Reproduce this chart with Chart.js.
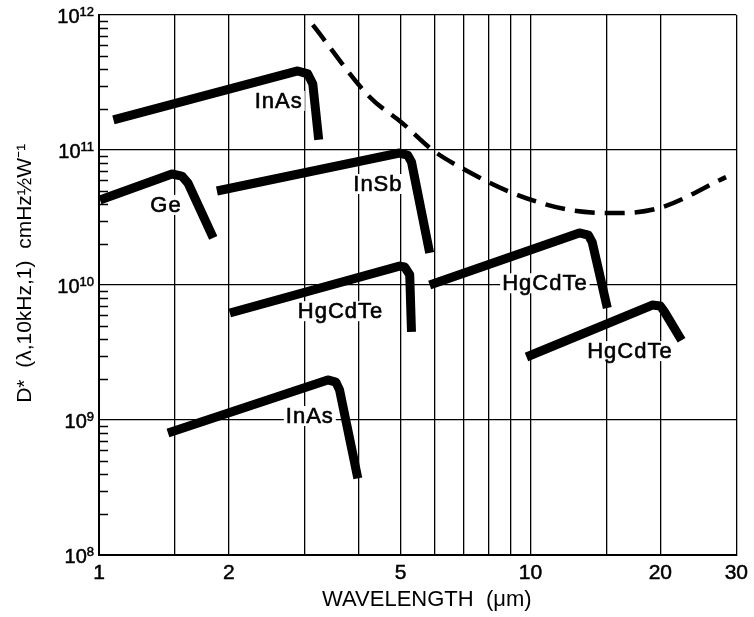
<!DOCTYPE html>
<html>
<head>
<meta charset="utf-8">
<script src="https://cdn.jsdelivr.net/npm/chart.js@4.4.1/dist/chart.umd.min.js"></script>
<style>
  body { margin: 0; background: #fff; }
  canvas { display: block; }
</style>
</head>
<body>
<canvas id="chart" width="754" height="617"></canvas>
<script>
// axis ticks
const xTicks = [1, 1.5, 2, 3, 4, 5, 6, 7, 8, 9, 10, 15, 20, 30];
const xTickLabels = [1, 2, 5, 10, 20, 30];
const yTicks = [1e8, 1e9, 1e10, 1e11, 1e12];
const yTickExps = ['8', '9', '10', '11', '12'];

// detector curves (wavelength um, D*)
const inAsUpperX = [1.08, 2.888, 3.047, 3.13, 3.23];
const inAsUpperY = [1.67e11, 3.85e11, 3.66e11, 3.08e11, 1.19e11];
const geX = [1.005, 1.476, 1.556, 1.607, 1.84];
const geY = [4.27e10, 6.64e10, 6.41e10, 5.7e10, 2.23e10];
const inSbX = [1.876, 4.97, 5.19, 5.3, 5.84];
const inSbY = [4.97e10, 9.5e10, 9.18e10, 8.15e10, 1.73e10];
const hgCdTe1X = [2.01, 4.97, 5.11, 5.25, 5.3];
const hgCdTe1Y = [6.2e9, 1.38e10, 1.36e10, 1.19e10, 4.5e9];
const hgCdTe2X = [5.84, 12.98, 13.62, 13.9, 15.07];
const hgCdTe2Y = [1.0e10, 2.43e10, 2.34e10, 2.08e10, 6.76e9];
const hgCdTe3X = [9.79, 19.16, 20.0, 20.4, 22.4];
const hgCdTe3Y = [2.93e9, 7.1e9, 6.98e9, 6.4e9, 3.9e9];
const inAsLowerX = [1.445, 3.39, 3.54, 3.61, 3.98];
const inAsLowerY = [8.0e8, 1.98e9, 1.91e9, 1.67e9, 3.7e8];
// background limited (dashed)
const blipX = [3.13, 4.24, 5.05, 5.93, 6.85, 9.09, 12.3, 15.8, 19.9, 28.4];
const blipY = [8.44e11, 2.47e11, 1.58e11, 1e11, 7.5e10, 4.8e10, 3.6e10, 3.41e10, 3.72e10, 6.3e10];

// curve names placed in the plot
const labelText = ['InAs', 'Ge', 'InSb', 'HgCdTe', 'HgCdTe', 'HgCdTe', 'InAs'];
const labelX = [2.61, 1.43, 4.43, 3.63, 10.8, 17.0, 3.08];
const labelY = [2.31e11, 3.92e10, 5.6e10, 6.4e9, 1.03e10, 3.24e9, 1.07e9];

function pts(xs, ys) {
  return xs.map((x, i) => ({x: x, y: ys[i]}));
}
function thick(xs, ys) {
  return {
    data: pts(xs, ys),
    borderColor: '#000',
    borderWidth: 9,
    borderJoinStyle: 'round',
    borderCapStyle: 'butt',
    pointRadius: 0,
    tension: 0
  };
}

const FONT = 'Liberation Sans, Arial, Helvetica, sans-serif';

// short inward ticks on the left axis
const minorTicks = {
  id: 'minorTicks',
  afterDatasetsDraw(chart) {
    const ctx = chart.ctx;
    const y = chart.scales.y;
    const left = chart.chartArea.left;
    ctx.save();
    ctx.strokeStyle = '#000';
    ctx.lineWidth = 1.5;
    for (let e = 8; e < 12; e++) {
      for (let m = 2; m <= 9; m++) {
        const py = Math.round(y.getPixelForValue(m * Math.pow(10, e))) + 0.5;
        ctx.beginPath();
        ctx.moveTo(left, py);
        ctx.lineTo(left + 9, py);
        ctx.stroke();
      }
    }
    ctx.restore();
  }
};

// 10 with raised exponent for the y ticks
const powerLabels = {
  id: 'powerLabels',
  afterDraw(chart) {
    const ctx = chart.ctx;
    const y = chart.scales.y;
    const right = chart.chartArea.left - 5;
    ctx.save();
    ctx.fillStyle = '#000';
    ctx.strokeStyle = '#000';
    ctx.lineWidth = 0.5;
    ctx.textBaseline = 'alphabetic';
    ctx.textAlign = 'left';
    yTicks.forEach((v, i) => {
      const py = y.getPixelForValue(v);
      ctx.font = '13px ' + FONT;
      const we = ctx.measureText(yTickExps[i]).width;
      ctx.font = '20px ' + FONT;
      const wb = ctx.measureText('10').width;
      const bx = right - we - wb;
      ctx.fillText('10', bx, py + 8);
      ctx.strokeText('10', bx, py + 8);
      ctx.font = '13px ' + FONT;
      ctx.fillText(yTickExps[i], bx + wb, py + 1);
      ctx.strokeText(yTickExps[i], bx + wb, py + 1);
    });
    ctx.restore();
  }
};

// curve labels with white backing
const curveLabels = {
  id: 'curveLabels',
  afterDatasetsDraw(chart) {
    const ctx = chart.ctx;
    const xs = chart.scales.x, ys = chart.scales.y;
    ctx.save();
    ctx.font = '22px ' + FONT;
    ctx.letterSpacing = '1px';
    ctx.textAlign = 'center';
    ctx.textBaseline = 'middle';
    ctx.lineWidth = 0.6;
    ctx.strokeStyle = '#000';
    labelText.forEach((t, i) => {
      const px = xs.getPixelForValue(labelX[i]);
      const py = ys.getPixelForValue(labelY[i]);
      const w = ctx.measureText(t).width;
      ctx.fillStyle = '#fff';
      ctx.fillRect(px - w / 2 - 2, py - 10, w + 4, 20);
      ctx.fillStyle = '#000';
      ctx.fillText(t, px, py + 1);
      ctx.strokeText(t, px, py + 1);
    });
    ctx.restore();
  }
};

new Chart(document.getElementById('chart'), {
  type: 'line',
  data: {
    datasets: [
      thick(inAsUpperX, inAsUpperY),
      thick(geX, geY),
      thick(inSbX, inSbY),
      thick(hgCdTe1X, hgCdTe1Y),
      thick(hgCdTe2X, hgCdTe2Y),
      thick(hgCdTe3X, hgCdTe3Y),
      thick(inAsLowerX, inAsLowerY),
      {
        data: pts(blipX, blipY),
        borderColor: '#000',
        borderWidth: 4.5,
        borderDash: [20, 10],
        pointRadius: 0,
        cubicInterpolationMode: 'monotone'
      }
    ]
  },
  options: {
    responsive: false,
    animation: false,
    layout: { padding: { top: 15, right: 16, left: 0, bottom: 0 } },
    plugins: {
      legend: { display: false },
      tooltip: { enabled: false }
    },
    scales: {
      x: {
        type: 'logarithmic',
        min: 1,
        max: 30,
        afterBuildTicks(scale) {
          scale.ticks = xTicks.map(v => ({value: v}));
        },
        afterFit(scale) { scale.height = 62; },
        grid: { color: '#000', lineWidth: 1.3, drawTicks: false },
        border: { color: '#000', width: 2 },
        ticks: {
          autoSkip: false,
          maxRotation: 0,
          padding: 6,
          color: '#000',
          textStrokeColor: '#000',
          textStrokeWidth: 0.5,
          font: { family: FONT, size: 21 },
          callback: v => xTickLabels.includes(v) ? String(v) : ''
        },
        title: {
          display: true,
          text: '   WAVELENGTH  (\u03bcm)',
          color: '#000',
          font: { family: FONT, size: 22 },
          padding: { top: 0, bottom: 4 }
        }
      },
      y: {
        type: 'logarithmic',
        min: 1e8,
        max: 1e12,
        afterBuildTicks(scale) {
          scale.ticks = yTicks.map(v => ({value: v}));
        },
        afterFit(scale) { scale.width = 99; },
        grid: { color: '#000', lineWidth: 1.3, drawTicks: false },
        border: { color: '#000', width: 2 },
        ticks: { display: false },
        title: {
          display: true,
          text: '    D*  (\u03bb,10kHz,1)  cmHz\u00bdW\u207b\u00b9',
          color: '#000',
          font: { family: FONT, size: 21 },
          padding: { top: 13, bottom: 0 }
        }
      }
    }
  },
  plugins: [minorTicks, curveLabels, powerLabels]
});
</script>
</body>
</html>
